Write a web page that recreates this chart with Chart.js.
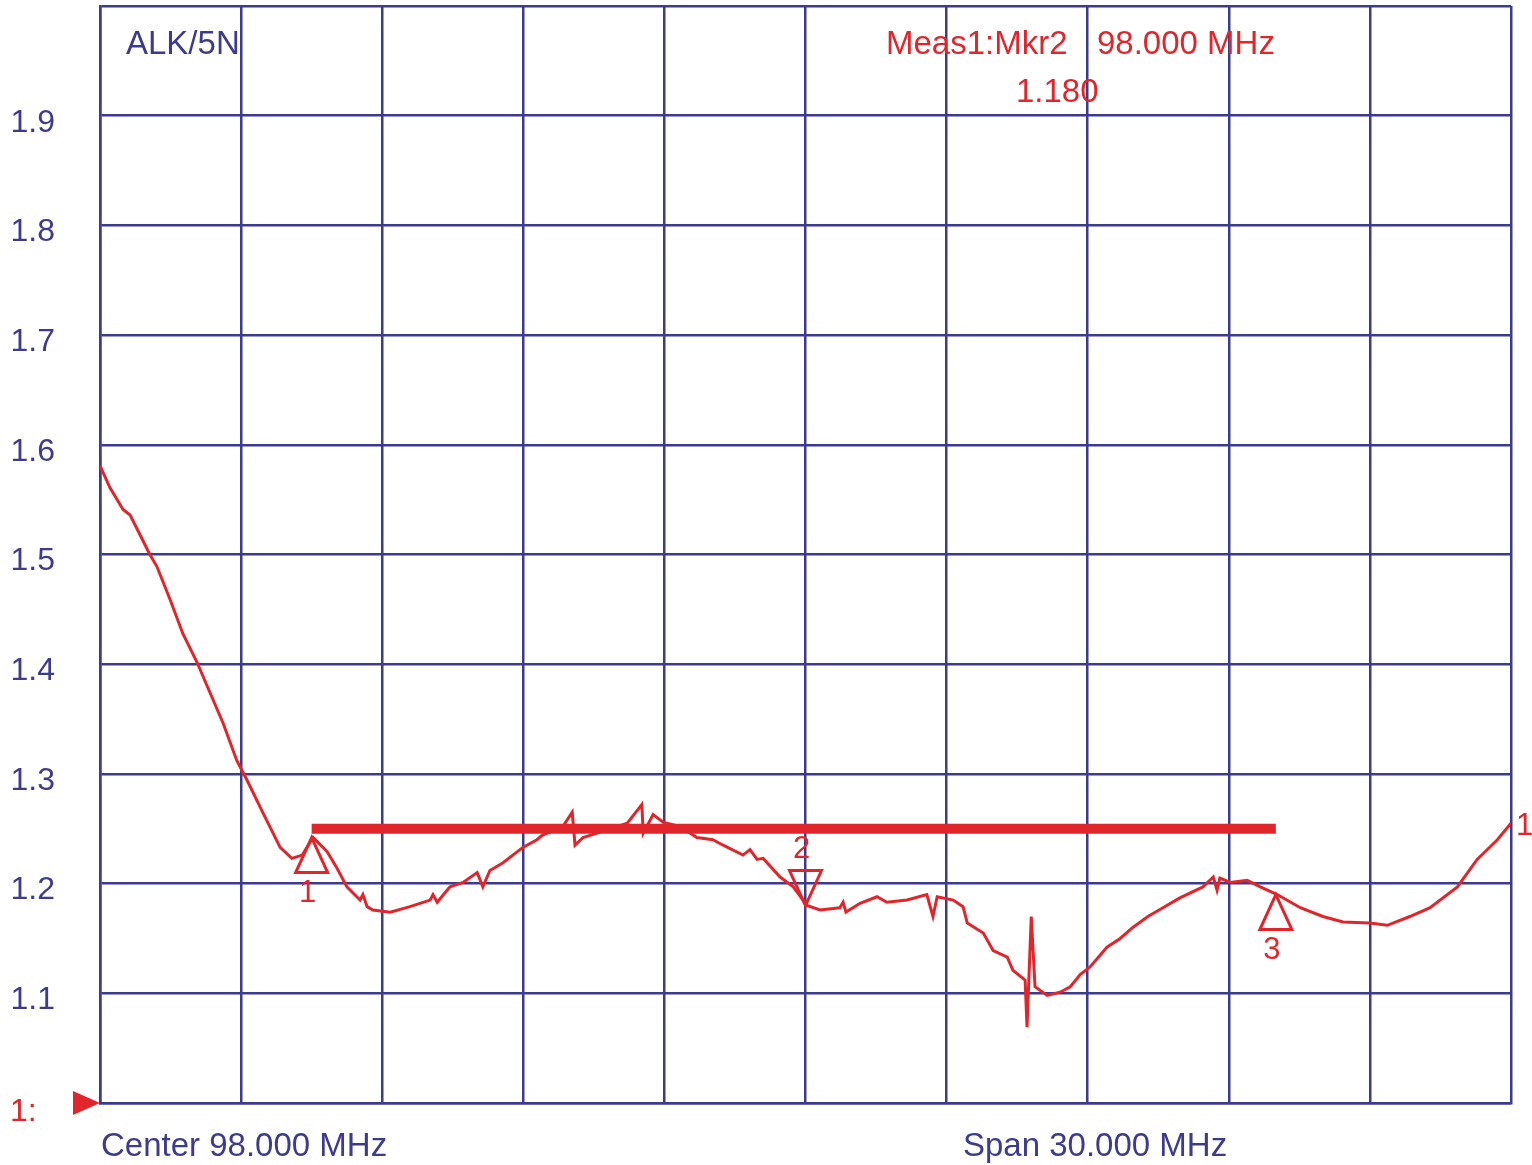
<!DOCTYPE html>
<html>
<head>
<meta charset="utf-8">
<script src="https://cdn.jsdelivr.net/npm/chart.js@4/dist/chart.umd.min.js"></script>
<style>
  html, body { margin: 0; padding: 0; background: #fff; }
  #wrap { width: 1532px; height: 1165px; }
</style>
</head>
<body>
<div id="wrap"><canvas id="vswr"></canvas></div>
<script>
// trace (MHz, VSWR)
const freqs = [83.00, 83.21, 83.49, 83.64, 83.85, 84.06, 84.21, 84.49, 84.76, 85.06,
  85.34, 85.62, 85.91, 86.13, 86.47, 86.83, 87.08, 87.30, 87.53, 87.83,
  88.04, 88.25, 88.53, 88.59, 88.68, 88.80, 89.17, 89.59, 90.02, 90.08,
  90.17, 90.44, 90.72, 91.02, 91.14, 91.29, 91.57, 91.99, 92.29, 92.40,
  92.84, 93.04, 93.10, 93.27, 93.57, 94.21, 94.52, 94.55, 94.76, 94.97,
  95.33, 95.69, 96.03, 96.25, 96.67, 96.82, 96.97, 97.10, 97.46, 97.74,
  98.03, 98.31, 98.73, 98.80, 98.86, 99.16, 99.52, 99.73, 100.16, 100.58,
  100.71, 100.80, 101.14, 101.35, 101.44, 101.78, 101.99, 102.29, 102.41, 102.67,
  102.71, 102.80, 102.88, 103.14, 103.41, 103.63, 103.84, 104.05, 104.41, 104.69,
  104.96, 105.28, 105.60, 105.96, 106.45, 106.67, 106.75, 106.81, 107.03, 107.39,
  107.67, 108.03, 108.52, 109.00, 109.43, 110.00, 110.37, 110.85, 111.28, 111.86,
  112.28, 112.71, 113.00];
const vswr = [1.581, 1.561, 1.541, 1.536, 1.518, 1.500, 1.489, 1.459, 1.428, 1.402,
  1.374, 1.346, 1.312, 1.294, 1.264, 1.233, 1.223, 1.226, 1.242, 1.229,
  1.214, 1.197, 1.185, 1.190, 1.179, 1.176, 1.174, 1.179, 1.185, 1.190,
  1.183, 1.197, 1.201, 1.210, 1.197, 1.212, 1.219, 1.233, 1.240, 1.244,
  1.252, 1.265, 1.235, 1.242, 1.246, 1.255, 1.272, 1.246, 1.263, 1.256,
  1.252, 1.242, 1.240, 1.235, 1.226, 1.231, 1.222, 1.223, 1.206, 1.197,
  1.180, 1.176, 1.178, 1.183, 1.174, 1.182, 1.188, 1.183, 1.185, 1.190,
  1.170, 1.188, 1.185, 1.179, 1.164, 1.155, 1.139, 1.133, 1.121, 1.112,
  1.069, 1.170, 1.106, 1.098, 1.101, 1.106, 1.117, 1.124, 1.142, 1.150,
  1.160, 1.170, 1.178, 1.187, 1.197, 1.206, 1.194, 1.205, 1.201, 1.203,
  1.197, 1.190, 1.178, 1.170, 1.165, 1.164, 1.162, 1.170, 1.178, 1.197,
  1.222, 1.240, 1.255];

// limit line
const limitFreqs = [87.5, 108.0];
const limitVals = [1.25, 1.25];

// markers
const markerNames = ['1', '2', '3'];
const markerFreqs = [87.5, 98.0, 108.0];
const markerVals = [1.242, 1.180, 1.190];
const markerDown = [false, true, false];

const yMin = 1.0, yMax = 2.0, yStep = 0.1;
const xMin = 83, xMax = 113, xStep = 3;

const NAVY = '#3d3b8e';
const RED = '#e1262b';
const FONT = '"Liberation Sans", Arial, sans-serif';

function pts(xs, ys) {
  return xs.map((x, i) => ({ x: x, y: ys[i] }));
}

const overlay = {
  id: 'overlay',
  afterDraw(chart) {
    const ctx = chart.ctx;
    const xs = chart.scales.x, ys = chart.scales.y;
    const area = chart.chartArea;
    ctx.save();

    // marker triangles
    ctx.strokeStyle = RED;
    ctx.fillStyle = RED;
    ctx.lineWidth = 3;
    ctx.lineJoin = 'miter';
    ctx.font = '31px ' + FONT;
    ctx.textAlign = 'center';
    ctx.textBaseline = 'middle';
    markerFreqs.forEach((f, i) => {
      const px = xs.getPixelForValue(f);
      const py = ys.getPixelForValue(markerVals[i]);
      const h = 35, w = 16;
      const dir = markerDown[i] ? -1 : 1;
      ctx.beginPath();
      ctx.moveTo(px, py);
      ctx.lineTo(px - w, py + dir * h);
      ctx.lineTo(px + w, py + dir * h);
      ctx.closePath();
      ctx.stroke();
      ctx.fillText(markerNames[i], px - 4, py + dir * (h + 21));
    });

    // trace end label
    ctx.textAlign = 'left';
    ctx.fillText('1', area.right + 5, ys.getPixelForValue(vswr[vswr.length - 1]) + 3);

    // reference level marker
    const ry = ys.getPixelForValue(yMin);
    ctx.beginPath();
    ctx.moveTo(area.left, ry);
    ctx.lineTo(area.left - 27, ry - 12);
    ctx.lineTo(area.left - 27, ry + 12);
    ctx.closePath();
    ctx.fill();
    ctx.font = '32px ' + FONT;
    ctx.textBaseline = 'alphabetic';
    ctx.fillText('1:', 10, ry + 18);

    // header / footer texts
    ctx.font = '33px ' + FONT;
    ctx.fillText('Meas1:Mkr2', 886, 54);
    ctx.fillText('98.000 MHz', 1097, 54);
    ctx.fillText('1.180', 1016, 102);
    ctx.fillStyle = NAVY;
    ctx.fillText('ALK/5N', 126, 54);
    ctx.fillText('Center 98.000 MHz', 101, 1156);
    ctx.fillText('Span 30.000 MHz', 963, 1156);
    ctx.restore();
  }
};

new Chart(document.getElementById('vswr'), {
  type: 'line',
  data: {
    datasets: [{
      label: 'Limit',
      data: pts(limitFreqs, limitVals),
      borderColor: RED,
      borderWidth: 10,
      borderCapStyle: 'butt',
      pointRadius: 0,
      order: 0
    }, {
      label: 'VSWR',
      data: pts(freqs, vswr),
      borderColor: RED,
      borderWidth: 3,
      pointRadius: 0,
      tension: 0,
      order: 1
    }]
  },
  options: {
    responsive: true,
    maintainAspectRatio: false,
    animation: false,
    devicePixelRatio: 1,
    layout: { padding: { top: 6, right: 21, left: 0, bottom: 0 } },
    plugins: {
      legend: { display: false },
      tooltip: { enabled: false }
    },
    scales: {
      x: {
        type: 'linear',
        min: xMin,
        max: xMax,
        ticks: { stepSize: xStep, display: false },
        grid: { color: NAVY, lineWidth: 2.5, drawTicks: false },
        border: { display: true, color: NAVY, width: 2.5 },
        afterFit(scale) {
          scale.height = 62;
          scale.paddingLeft = 0;
          scale.paddingRight = 0;
        }
      },
      y: {
        min: yMin,
        max: yMax,
        ticks: {
          stepSize: yStep,
          color: NAVY,
          padding: 45,
          labelOffset: 7,
          font: { size: 32, family: FONT },
          callback(value) {
            if (Math.abs(value - yMin) < 1e-6 || Math.abs(value - yMax) < 1e-6) return '';
            return value.toFixed(1);
          }
        },
        grid: { color: NAVY, lineWidth: 2.5, drawTicks: false },
        border: { display: true, color: NAVY, width: 2.5 },
        afterFit(scale) {
          scale.width = 100;
          scale.paddingTop = 0;
          scale.paddingBottom = 0;
        }
      }
    }
  },
  plugins: [overlay]
});
</script>
</body>
</html>
